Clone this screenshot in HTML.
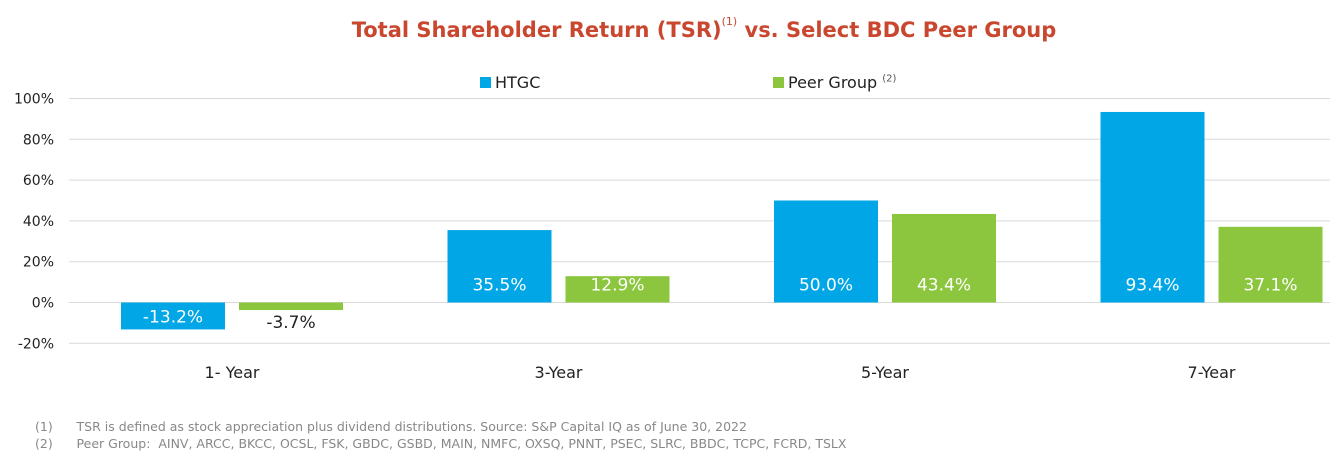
<!DOCTYPE html>
<html><head><meta charset="utf-8"><style>
body{margin:0;background:#fff;width:1330px;height:463px;overflow:hidden;font-family:"DejaVu Sans","Liberation Sans",sans-serif}
.t{position:absolute;white-space:nowrap}
</style></head><body>
<div class="t" style="left:0;width:1408px;text-align:center;top:18px;font-size:21px;font-weight:bold;color:#c9472f">Total Shareholder Return (TSR)<sup style="font-size:11px;font-weight:normal;position:relative;top:-4px">(1)</sup> vs. Select BDC Peer Group</div>
<div class="t" style="left:480px;top:73px;font-size:16px;color:#222"><span style="display:inline-block;width:11px;height:11px;background:#00a6e6;margin-right:4px"></span>HTGC</div>
<div class="t" style="left:773px;top:73px;font-size:16px;color:#222"><span style="display:inline-block;width:11px;height:11px;background:#8cc63f;margin-right:4px"></span>Peer Group <sup style="font-size:10px;color:#555">(2)</sup></div>
<svg id="c" width="1330" height="463" style="position:absolute;left:0;top:0"></svg>
<div class="t" style="left:35px;top:419px;font-size:12.5px;color:#888">(1)&nbsp;&nbsp;&nbsp;&nbsp;&nbsp;&nbsp;TSR is defined as stock appreciation plus dividend distributions. Source: S&amp;P Capital IQ as of June 30, 2022</div>
<div class="t" style="left:35px;top:436px;font-size:12.5px;color:#888">(2)&nbsp;&nbsp;&nbsp;&nbsp;&nbsp;&nbsp;Peer Group:&nbsp; AINV, ARCC, BKCC, OCSL, FSK, GBDC, GSBD, MAIN, NMFC, OXSQ, PNNT, PSEC, SLRC, BBDC, TCPC, FCRD, TSLX</div>
<script>
const categories=["1- Year","3-Year","5-Year","7-Year"];
const htgc=[-13.2,35.5,50.0,93.4];
const peer=[-3.7,12.9,43.4,37.1];
const ticks=[100,80,60,40,20,0,-20];
const svg=document.getElementById('c');const NS='http://www.w3.org/2000/svg';
const y=v=>302.5-v*2.04;
const cx=i=>232+i*326.5;
function mk(t,a){const e=document.createElementNS(NS,t);for(const k in a)e.setAttribute(k,a[k]);svg.appendChild(e);return e;}
ticks.forEach(v=>{
 const l=mk('line',{x1:69,x2:1330,y1:y(v),y2:y(v),stroke:'#d9d9d9','stroke-width':1});
 
 
 const t=mk('text',{x:54,y:y(v)+5,'text-anchor':'end','font-size':14,fill:'#222'});t.textContent=v+'%';
 
 
});
categories.forEach((c,i)=>{
 const t=mk('text',{x:cx(i),y:378,'text-anchor':'middle','font-size':16,fill:'#222'});t.textContent=c;
 
 
 [[htgc,'#00a6e6',-111],[peer,'#8cc63f',7]].forEach(([s,col,off])=>{
  const v=s[i],x=cx(i)+off,y0=y(Math.max(v,0)),h=Math.abs(y(v)-y(0));
  const r=mk('rect',{x:x,y:y0,width:104,height:h,fill:col});
  
  
  let ly,fc='#fff';
  if(v>=0) ly=y(0)-12; else if(h>22) ly=y(v)-7; else {ly=y(v)+18;fc='#222';}
  const lt=mk('text',{x:x+52,y:ly,'text-anchor':'middle','font-size':17,fill:fc});lt.textContent=v.toFixed(1)+'%';
  
  
 });
});
</script>
</body></html>
